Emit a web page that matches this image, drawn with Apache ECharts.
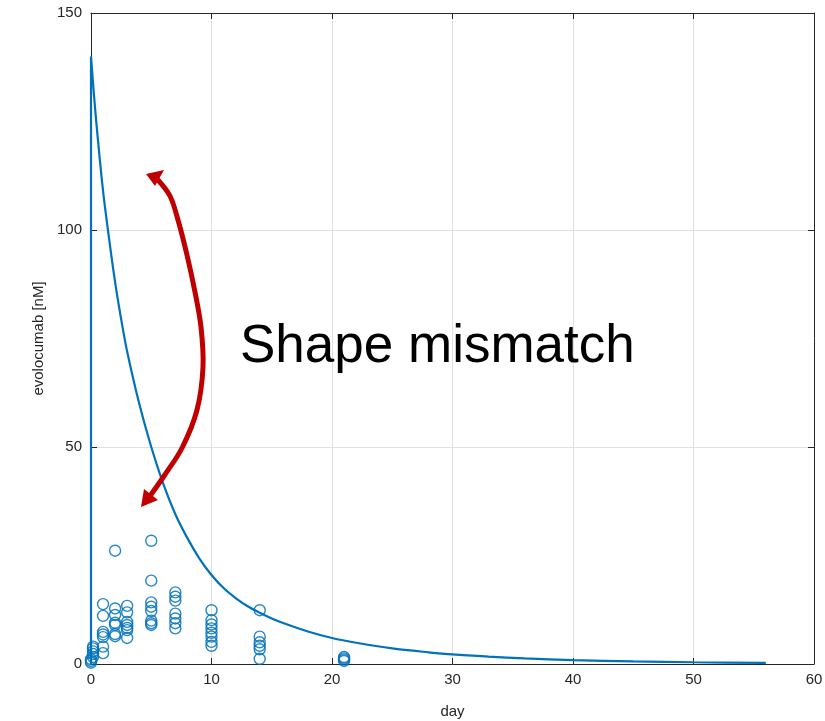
<!DOCTYPE html>
<html>
<head>
<meta charset="utf-8">
<title>evolocumab</title>
<script src="https://cdn.jsdelivr.net/npm/echarts@6/dist/echarts.min.js"></script>
<style>
  html, body { margin: 0; padding: 0; background: #ffffff; }
  #chart { width: 825px; height: 721px; }
</style>
</head>
<body>
<div id="chart"></div>
<script>
// Simulated concentration profile (day, nM); starts with the dose jump at t = 0
const curveDays = [0, 0, 0.25, 0.5, 1, 1.5, 2, 2.5, 3, 4, 5, 6, 7, 8, 9, 10, 11, 12, 13, 14, 15, 16, 18, 20, 22, 25, 28, 30, 33, 36, 40, 45, 50, 56];
const curveValues = [0, 140, 131, 123, 109, 98, 88, 79.5, 72, 60, 50, 41.5, 34.5, 29, 24.3, 20.5, 17.5, 15.2, 13.3, 11.8, 10.5, 9.4, 7.5, 6.0, 4.9, 3.6, 2.7, 2.2, 1.7, 1.3, 0.9, 0.6, 0.4, 0.25];

// Observed concentrations (day, nM)
const obsDays = [
  0, 0, 0,
  0.17, 0.17, 0.17, 0.17, 0.17,
  1, 1, 1, 1, 1, 1, 1,
  2, 2, 2, 2, 2, 2, 2,
  3, 3, 3, 3, 3, 3, 3,
  5, 5, 5, 5, 5, 5, 5, 5,
  7, 7, 7, 7, 7, 7, 7,
  10, 10, 10, 10, 10, 10, 10, 10,
  14, 14, 14, 14, 14, 14,
  21, 21, 21, 21
];
const obsValues = [
  0.3, 0.7, 1.1,
  1.6, 2.3, 2.9, 3.6, 4.0,
  13.8, 11.1, 7.4, 6.8, 6.2, 4.0, 2.5,
  26.1, 12.8, 11.3, 9.5, 9.0, 6.9, 6.4,
  13.4, 11.9, 9.7, 9.0, 8.3, 7.8, 6.0,
  28.4, 19.2, 14.2, 13.2, 12.2, 10.0, 9.4, 9.0,
  16.5, 15.5, 14.6, 11.6, 10.5, 9.4, 8.2,
  12.4, 10.1, 9.1, 8.2, 7.2, 6.3, 5.1, 4.2,
  12.4, 6.3, 5.0, 4.2, 3.4, 1.2,
  0.7, 1.0, 1.3, 1.6
];

const xTicks = [0, 10, 20, 30, 40, 50, 60];
const yTicks = [0, 50, 100, 150];

const BLUE = '#0072BD';
const INK = '#262626';
const FONT = 'Liberation Sans, Arial, sans-serif';

const curveData = curveDays.map((d, i) => [d, curveValues[i]]);
const obsData = obsDays.map((d, i) => [d, obsValues[i]]);

const chart = echarts.init(document.getElementById('chart'), null, { renderer: 'canvas' });

const baseX = {
  type: 'value', min: xTicks[0], max: xTicks[xTicks.length - 1], interval: 10,
  axisLine: { show: true, onZero: false, lineStyle: { color: INK, width: 1 } },
  axisTick: { show: true, inside: true, length: 6, lineStyle: { color: INK } },
  splitLine: { show: true, lineStyle: { color: '#e0e0e0', width: 1 } }
};
const baseY = {
  type: 'value', min: yTicks[0], max: yTicks[yTicks.length - 1], interval: 50,
  axisLine: { show: true, onZero: false, lineStyle: { color: INK, width: 1 } },
  axisTick: { show: true, inside: true, length: 6, lineStyle: { color: INK } },
  splitLine: { show: true, lineStyle: { color: '#e0e0e0', width: 1 } }
};

chart.setOption({
  animation: false,
  backgroundColor: '#ffffff',
  grid: { left: 91, right: 11, top: 13, bottom: 57, containLabel: false, outerBoundsMode: 'none' },
  xAxis: [
    Object.assign({}, baseX, {
      position: 'bottom',
      name: 'day', nameLocation: 'middle', nameGap: 40,
      nameTextStyle: { color: INK, fontFamily: FONT, fontSize: 15 },
      axisLabel: { color: INK, fontFamily: FONT, fontSize: 15, margin: 8 }
    }),
    Object.assign({}, baseX, {
      position: 'top', axisLabel: { show: false }, splitLine: { show: false }
    })
  ],
  yAxis: [
    Object.assign({}, baseY, {
      position: 'left',
      name: 'evolocumab [nM]', nameLocation: 'middle', nameGap: 44,
      nameTextStyle: { color: INK, fontFamily: FONT, fontSize: 15 },
      axisLabel: { color: INK, fontFamily: FONT, fontSize: 15, margin: 9 }
    }),
    Object.assign({}, baseY, {
      position: 'right', axisLabel: { show: false }, splitLine: { show: false }
    })
  ],
  series: [
    {
      type: 'line', xAxisIndex: 0, yAxisIndex: 0,
      data: curveData, smooth: 0.3, showSymbol: false,
      lineStyle: { color: BLUE, width: 2.2 }, z: 3
    },
    {
      type: 'scatter', xAxisIndex: 0, yAxisIndex: 0,
      data: obsData, symbol: 'circle', symbolSize: 11,
      itemStyle: { color: 'rgba(0,0,0,0)', borderColor: BLUE, borderWidth: 1.4, opacity: 0.85 },
      z: 4
    }
  ],
  graphic: [
    {
      type: 'text', left: 240, top: 321, z: 10,
      style: { text: 'Shape mismatch', fill: '#000000', font: '53px Liberation Sans, Arial, sans-serif' }
    },
    {
      type: 'polyline', z: 10,
      shape: {
        points: [[158, 180], [170, 196], [178, 220], [187, 255], [195, 292], [201, 327], [203, 367], [197, 410], [182, 448], [164, 476], [150, 496]],
        smooth: 0.35
      },
      style: { stroke: '#C00000', lineWidth: 5, fill: null, lineCap: 'round' }
    },
    {
      type: 'polygon', z: 11,
      shape: { points: [[146, 174], [164, 170], [155, 186]] },
      style: { fill: '#C00000' }
    },
    {
      type: 'polygon', z: 11,
      shape: { points: [[141, 507], [144, 489], [158, 500]] },
      style: { fill: '#C00000' }
    }
  ]
});
</script>
</body>
</html>
